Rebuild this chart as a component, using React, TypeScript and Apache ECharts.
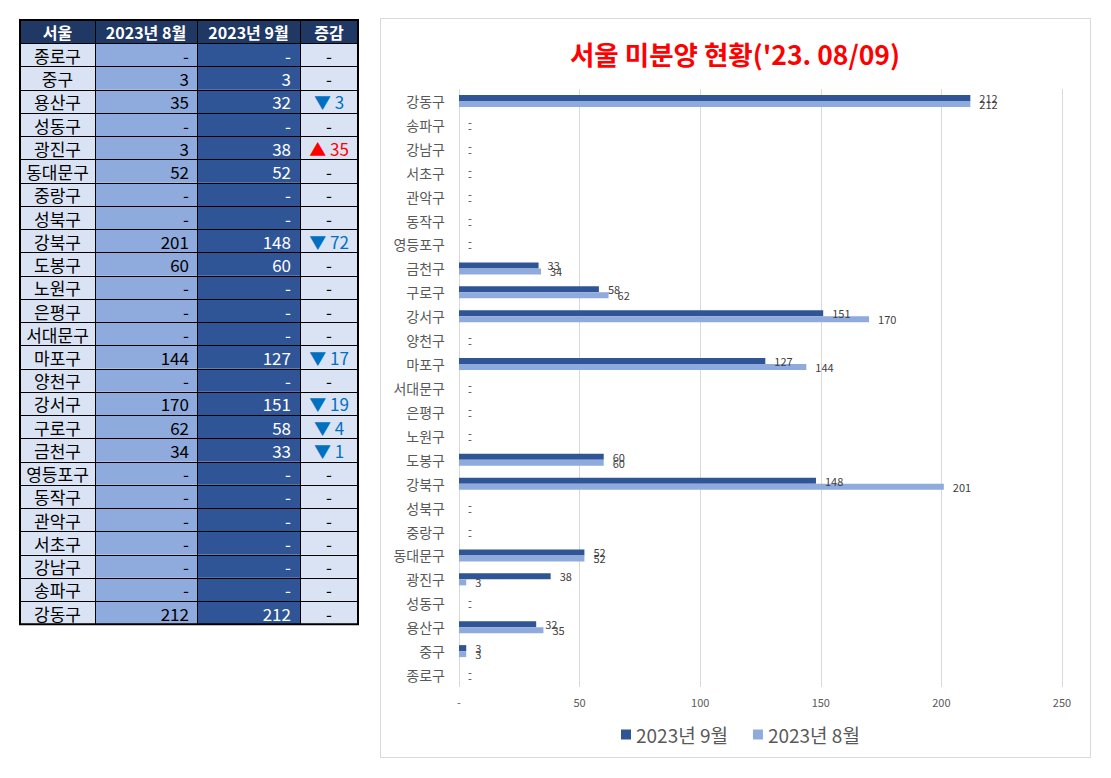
import React, { useEffect, useRef } from 'react';
import * as echarts from 'echarts';

// Table order (top to bottom); the chart's category axis uses the same order bottom to top
const districts = ['종로구', '중구', '용산구', '성동구', '광진구', '동대문구', '중랑구', '성북구', '강북구', '도봉구', '노원구', '은평구', '서대문구', '마포구', '양천구', '강서구', '구로구', '금천구', '영등포구', '동작구', '관악구', '서초구', '강남구', '송파구', '강동구'];
const aug2023 = [0, 3, 35, 0, 3, 52, 0, 0, 201, 60, 0, 0, 0, 144, 0, 170, 62, 34, 0, 0, 0, 0, 0, 0, 212];
const sep2023 = [0, 3, 32, 0, 38, 52, 0, 0, 148, 60, 0, 0, 0, 127, 0, 151, 58, 33, 0, 0, 0, 0, 0, 0, 212];
// change column as printed in the table
const changes = [0, 0, -3, 0, 35, 0, 0, 0, -72, 0, 0, 0, 0, -17, 0, -19, -4, -1, 0, 0, 0, 0, 0, 0, 0];
const headerLabels = ['서울', '2023년 8월', '2023년 9월', '증감'];
const seriesNames = ['2023년 9월', '2023년 8월'];
const chartTitle = "서울 미분양 현황('23. 08/09)";

const FONT = '"Noto Sans CJK KR", "Noto Sans", sans-serif';

function fmt(v: number) {
  return v === 0 ? '-' : String(v);
}

function buildTable() {
  const colEdges = [20, 95, 197, 300, 358];
  const top = 20;
  const rowH = 23.24;
  const nRows = districts.length + 1;
  const bottom = top + nRows * rowH;
  const fills = ['#dae3f3', '#8faadc', '#2f5597', '#dae3f3'];
  const els: any[] = [];
  // header
  for (let c = 0; c < 4; c++) {
    els.push({
      type: 'rect',
      shape: { x: colEdges[c], y: top, width: colEdges[c + 1] - colEdges[c], height: rowH },
      style: { fill: '#1f3864' },
    });
    els.push({
      type: 'text',
      x: (colEdges[c] + colEdges[c + 1]) / 2,
      y: top + rowH / 2 + 0.5,
      style: {
        text: headerLabels[c],
        fill: '#ffffff',
        font: `bold 16px ${FONT}`,
        align: 'center',
        verticalAlign: 'middle',
      },
    });
  }
  const dataFont = `17px ${FONT}`;
  districts.forEach((d, i) => {
    const y = top + (i + 1) * rowH;
    const cy = y + rowH / 2 + 0.5;
    for (let c = 0; c < 4; c++) {
      els.push({
        type: 'rect',
        shape: { x: colEdges[c], y, width: colEdges[c + 1] - colEdges[c], height: rowH },
        style: { fill: fills[c] },
      });
    }
    els.push({
      type: 'text', x: (colEdges[0] + colEdges[1]) / 2, y: cy,
      style: { text: d, fill: '#000', font: dataFont, align: 'center', verticalAlign: 'middle' },
    });
    els.push({
      type: 'text', x: colEdges[2] - 8, y: cy,
      style: { text: fmt(aug2023[i]), fill: '#000', font: dataFont, align: 'right', verticalAlign: 'middle' },
    });
    els.push({
      type: 'text', x: colEdges[3] - 9, y: cy,
      style: { text: fmt(sep2023[i]), fill: '#fff', font: dataFont, align: 'right', verticalAlign: 'middle' },
    });
    const ch = changes[i];
    const chText = ch < 0 ? `▼ ${-ch}` : ch > 0 ? `▲ ${ch}` : '-';
    const chColor = ch < 0 ? '#0070c0' : ch > 0 ? '#ff0000' : '#000';
    els.push({
      type: 'text', x: (colEdges[3] + colEdges[4]) / 2, y: cy,
      style: { text: chText, fill: chColor, font: dataFont, align: 'center', verticalAlign: 'middle' },
    });
  });
  // grid lines
  for (let r = 1; r < nRows; r++) {
    const y = Math.round(top + r * rowH) + 0.5;
    els.push({
      type: 'line',
      shape: { x1: colEdges[0], y1: y, x2: colEdges[4], y2: y },
      style: { stroke: '#000', lineWidth: 1 },
    });
  }
  for (let c = 1; c < 4; c++) {
    els.push({
      type: 'line',
      shape: { x1: colEdges[c] + 0.5, y1: top, x2: colEdges[c] + 0.5, y2: bottom },
      style: { stroke: '#000', lineWidth: 1 },
    });
  }
  els.push({
    type: 'rect',
    shape: { x: colEdges[0], y: top, width: colEdges[4] - colEdges[0], height: bottom - top },
    style: { fill: 'none', stroke: '#000', lineWidth: 2 },
  });
  return els;
}

export default function App() {
  const ref = useRef<HTMLDivElement>(null);
  useEffect(() => {
    if (!ref.current) return;
    const chart = echarts.init(ref.current, null, { renderer: 'svg' });
    const labelCommon = {
      show: true,
      position: 'right',
      distance: 9,
      fontSize: 11,
      color: '#404040',
      fontFamily: FONT,
      formatter: (p: any) => fmt(p.value),
    };
    chart.setOption({
      animation: false,
      backgroundColor: '#ffffff',
      title: {
        text: chartTitle,
        left: 730,
        top: 35,
        textAlign: 'center',
        textStyle: { color: '#ff0000', fontSize: 26.5, fontWeight: 'bold', fontFamily: FONT },
      },
      legend: {
        data: seriesNames,
        left: 616,
        top: 720,
        icon: 'rect',
        itemWidth: 10,
        itemHeight: 10,
        itemGap: 25,
        textStyle: { fontSize: 19, color: '#595959', fontFamily: FONT },
      },
      grid: { left: 459, right: 49, top: 89, bottom: 91, containLabel: false },
      xAxis: {
        type: 'value',
        min: 0,
        max: 250,
        interval: 50,
        axisLine: { show: false },
        axisTick: { show: false },
        splitLine: { show: true, lineStyle: { color: '#d9d9d9', width: 1 } },
        axisLabel: {
          fontSize: 11,
          color: '#595959',
          fontFamily: FONT,
          margin: 9,
          formatter: (v: number) => fmt(v),
        },
      },
      yAxis: {
        type: 'category',
        data: districts,
        axisLine: { show: false },
        axisTick: { show: false },
        axisLabel: { fontSize: 14, color: '#595959', fontFamily: FONT, margin: 14 },
      },
      series: [
        {
          name: seriesNames[0],
          type: 'bar',
          data: sep2023,
          barWidth: 6,
          barGap: '0%',
          itemStyle: { color: '#2f5597' },
          label: labelCommon,
        },
        {
          name: seriesNames[1],
          type: 'bar',
          data: aug2023,
          barWidth: 6,
          barGap: '0%',
          itemStyle: { color: '#8faadc' },
          label: labelCommon,
        },
      ],
      graphic: [
        {
          type: 'rect',
          z: -10,
          shape: { x: 380.5, y: 18.5, width: 710, height: 739 },
          style: { fill: 'none', stroke: '#d9d9d9', lineWidth: 1 },
        },
        ...buildTable(),
      ],
    });
    return () => chart.dispose();
  }, []);
  return (
    <div
      ref={ref}
      style={{ position: 'absolute', left: 0, top: 0, width: 1111, height: 778 }}
    />
  );
}
